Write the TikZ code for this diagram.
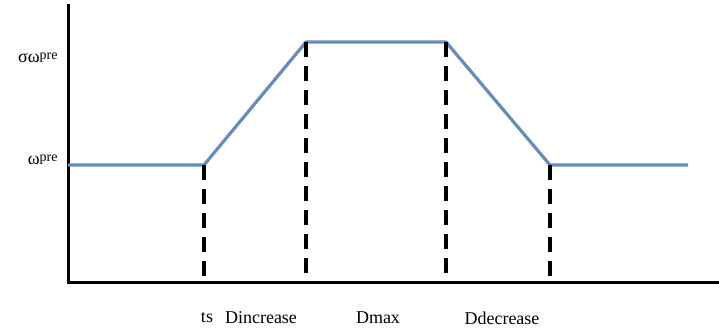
\documentclass[tikz,border=0pt]{standalone}
\usepackage{fontspec}
\setmainfont{Liberation Serif}
\definecolor{rampblue}{RGB}{104,140,186}
\newcommand{\presup}{\raisebox{0.35ex}{\fontsize{7}{8}\selectfont pre}}

\tikzset{
	axis/.style = {line width = 1.5pt},
	ramp/.style = {line width = 1.6pt, rampblue, line join = round},
	guide/.style = {line width = 1.6pt, dash pattern = on 7.5pt off 4.5pt},
	lbl/.style = {font = \fontsize{9}{10}\selectfont, inner sep = 1pt}
}

\begin{document}
\begin{tikzpicture}[x = 0.5pt, y = 0.5pt]
	\useasboundingbox (0,0) rectangle (719,335);
	\coordinate (O) at (68,52);
	\coordinate (YT) at (68,331);
	\coordinate (XR) at (719,52);
	\coordinate (A) at (68,170);
	\coordinate (B) at (204,170);
	\coordinate (C) at (306,293);
	\coordinate (D) at (446,293);
	\coordinate (E) at (550,170);
	\coordinate (F) at (688,170);
	
	\draw[axis] (YT) -- (O) -- (XR);
	\draw[ramp] (A) -- (B) -- (C) -- (D) -- (E) -- (F);
	\foreach \p in {B, C, D, E}
		\draw[guide] (\p) -- (\p |- O);
	
	\node[lbl, anchor = east] (SW) at (60,277) {σω\presup};
	\node[lbl, anchor = east] (W) at (60,175) {ω\presup};
	\node[lbl] (TS) at (207,17) {ts};
	\node[lbl] (DI) at (261,17) {Dincrease};
	\node[lbl] (DM) at (378,17) {Dmax};
	\node[lbl] (DD) at (502,17) {Ddecrease};
\end{tikzpicture}
\end{document}
